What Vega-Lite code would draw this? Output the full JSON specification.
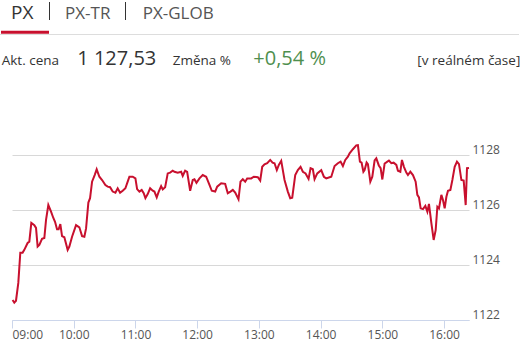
{
  "$schema": "https://vega.github.io/schema/vega-lite/v6.json",
  "width": 457,
  "height": 220,
  "autosize": {"type": "none"},
  "padding": {"left": 12, "top": 100, "right": 55, "bottom": 25},
  "background": "#ffffff",
  "config": {"view": {"stroke": null}, "font": "Open Sans"},
  "layer": [
    {
      "data": {"values": [{}]},
      "mark": {"type": "rule", "stroke": "#dddddd", "strokeWidth": 1},
      "encoding": {"x": {"value": -12}, "x2": {"value": 507}, "y": {"value": -65.5}}
    },
    {
      "data": {"values": [{}]},
      "mark": {"type": "rule", "stroke": "#c8102e", "strokeWidth": 3},
      "encoding": {"x": {"value": -11}, "x2": {"value": 37}, "y": {"value": -67.8}}
    },
    {
      "data": {"values": [{}]},
      "mark": {"type": "rule", "stroke": "#333333", "strokeWidth": 1},
      "encoding": {"x": {"value": 37.5}, "y": {"value": -98}, "y2": {"value": -80}}
    },
    {
      "data": {"values": [{}]},
      "mark": {"type": "rule", "stroke": "#333333", "strokeWidth": 1},
      "encoding": {"x": {"value": 113.5}, "y": {"value": -98}, "y2": {"value": -80}}
    },
    {
      "data": {"values": [{"s": "PX"}]},
      "mark": {"type": "text", "x": -1, "y": -81, "align": "left", "baseline": "alphabetic", "fontSize": 19, "color": "#333333", "font": "Open Sans"},
      "encoding": {"text": {"field": "s"}}
    },
    {
      "data": {"values": [{"s": "PX-TR"}]},
      "mark": {"type": "text", "x": 53, "y": -80.7, "align": "left", "baseline": "alphabetic", "fontSize": 17, "color": "#555555", "font": "Open Sans"},
      "encoding": {"text": {"field": "s"}}
    },
    {
      "data": {"values": [{"s": "PX-GLOB"}]},
      "mark": {"type": "text", "x": 130.7, "y": -80.7, "align": "left", "baseline": "alphabetic", "fontSize": 17, "color": "#555555", "font": "Open Sans"},
      "encoding": {"text": {"field": "s"}}
    },
    {
      "data": {"values": [{"s": "Akt. cena"}]},
      "mark": {"type": "text", "x": -10.3, "y": -35, "align": "left", "baseline": "alphabetic", "fontSize": 13.5, "color": "#333333", "font": "Open Sans"},
      "encoding": {"text": {"field": "s"}}
    },
    {
      "data": {"values": [{"s": "1 127,53"}]},
      "mark": {"type": "text", "x": 65.3, "y": -35, "align": "left", "baseline": "alphabetic", "fontSize": 20, "color": "#333333", "font": "Open Sans"},
      "encoding": {"text": {"field": "s"}}
    },
    {
      "data": {"values": [{"s": "Změna %"}]},
      "mark": {"type": "text", "x": 160.7, "y": -35, "align": "left", "baseline": "alphabetic", "fontSize": 13.5, "color": "#333333", "font": "Open Sans"},
      "encoding": {"text": {"field": "s"}}
    },
    {
      "data": {"values": [{"s": "+0,54 %"}]},
      "mark": {"type": "text", "x": 241.3, "y": -35, "align": "left", "baseline": "alphabetic", "fontSize": 20, "color": "#4f8f4f", "font": "Open Sans"},
      "encoding": {"text": {"field": "s"}}
    },
    {
      "data": {"values": [{"s": "[v reálném čase]"}]},
      "mark": {"type": "text", "x": 508.3, "y": -35, "align": "right", "baseline": "alphabetic", "fontSize": 13.5, "color": "#333333", "font": "Open Sans"},
      "encoding": {"text": {"field": "s"}}
    },
    {
      "data": {"values": [
        {"t": "2024-05-06T09:00:35", "v": 1122.73},
        {"t": "2024-05-06T09:02:14", "v": 1122.63},
        {"t": "2024-05-06T09:03:53", "v": 1122.70},
        {"t": "2024-05-06T09:06:08", "v": 1123.35},
        {"t": "2024-05-06T09:08:05", "v": 1124.45},
        {"t": "2024-05-06T09:10:19", "v": 1124.45},
        {"t": "2024-05-06T09:11:58", "v": 1124.55},
        {"t": "2024-05-06T09:15:11", "v": 1124.80},
        {"t": "2024-05-06T09:16:50", "v": 1124.85},
        {"t": "2024-05-06T09:18:47", "v": 1125.53},
        {"t": "2024-05-06T09:21:42", "v": 1125.45},
        {"t": "2024-05-06T09:23:21", "v": 1125.35},
        {"t": "2024-05-06T09:24:55", "v": 1124.67},
        {"t": "2024-05-06T09:26:34", "v": 1124.73},
        {"t": "2024-05-06T09:29:11", "v": 1124.95},
        {"t": "2024-05-06T09:31:26", "v": 1124.98},
        {"t": "2024-05-06T09:33:05", "v": 1125.64},
        {"t": "2024-05-06T09:35:19", "v": 1126.18},
        {"t": "2024-05-06T09:37:57", "v": 1125.94},
        {"t": "2024-05-06T09:40:11", "v": 1125.71},
        {"t": "2024-05-06T09:41:50", "v": 1125.57},
        {"t": "2024-05-06T09:43:47", "v": 1125.30},
        {"t": "2024-05-06T09:45:20", "v": 1125.30},
        {"t": "2024-05-06T09:46:59", "v": 1125.49},
        {"t": "2024-05-06T09:48:39", "v": 1125.05},
        {"t": "2024-05-06T09:50:53", "v": 1125.01},
        {"t": "2024-05-06T09:54:06", "v": 1124.55},
        {"t": "2024-05-06T09:55:45", "v": 1124.67},
        {"t": "2024-05-06T09:58:23", "v": 1125.03},
        {"t": "2024-05-06T10:02:16", "v": 1125.45},
        {"t": "2024-05-06T10:05:29", "v": 1125.37},
        {"t": "2024-05-06T10:08:07", "v": 1125.05},
        {"t": "2024-05-06T10:10:20", "v": 1125.03},
        {"t": "2024-05-06T10:12:00", "v": 1125.33},
        {"t": "2024-05-06T10:14:14", "v": 1126.27},
        {"t": "2024-05-06T10:15:53", "v": 1126.43},
        {"t": "2024-05-06T10:17:50", "v": 1127.03},
        {"t": "2024-05-06T10:20:22", "v": 1127.27},
        {"t": "2024-05-06T10:22:19", "v": 1127.48},
        {"t": "2024-05-06T10:24:56", "v": 1127.21},
        {"t": "2024-05-06T10:27:34", "v": 1127.09},
        {"t": "2024-05-06T10:30:47", "v": 1126.91},
        {"t": "2024-05-06T10:33:01", "v": 1126.85},
        {"t": "2024-05-06T10:35:21", "v": 1126.83},
        {"t": "2024-05-06T10:37:53", "v": 1126.67},
        {"t": "2024-05-06T10:40:31", "v": 1126.63},
        {"t": "2024-05-06T10:42:44", "v": 1126.79},
        {"t": "2024-05-06T10:45:05", "v": 1126.63},
        {"t": "2024-05-06T10:47:37", "v": 1126.70},
        {"t": "2024-05-06T10:50:14", "v": 1126.79},
        {"t": "2024-05-06T10:52:28", "v": 1127.03},
        {"t": "2024-05-06T10:54:08", "v": 1127.21},
        {"t": "2024-05-06T10:57:20", "v": 1127.21},
        {"t": "2024-05-06T10:59:58", "v": 1127.15},
        {"t": "2024-05-06T11:01:37", "v": 1126.76},
        {"t": "2024-05-06T11:03:52", "v": 1126.67},
        {"t": "2024-05-06T11:06:05", "v": 1126.73},
        {"t": "2024-05-06T11:08:02", "v": 1126.61},
        {"t": "2024-05-06T11:09:41", "v": 1126.43},
        {"t": "2024-05-06T11:11:56", "v": 1126.58},
        {"t": "2024-05-06T11:14:16", "v": 1126.79},
        {"t": "2024-05-06T11:16:48", "v": 1126.70},
        {"t": "2024-05-06T11:18:27", "v": 1126.67},
        {"t": "2024-05-06T11:20:41", "v": 1126.46},
        {"t": "2024-05-06T11:22:38", "v": 1126.67},
        {"t": "2024-05-06T11:24:58", "v": 1126.87},
        {"t": "2024-05-06T11:26:32", "v": 1126.75},
        {"t": "2024-05-06T11:28:52", "v": 1126.83},
        {"t": "2024-05-06T11:31:23", "v": 1127.33},
        {"t": "2024-05-06T11:33:43", "v": 1127.36},
        {"t": "2024-05-06T11:36:15", "v": 1127.43},
        {"t": "2024-05-06T11:37:55", "v": 1127.39},
        {"t": "2024-05-06T11:41:07", "v": 1127.36},
        {"t": "2024-05-06T11:44:26", "v": 1127.39},
        {"t": "2024-05-06T11:45:59", "v": 1127.24},
        {"t": "2024-05-06T11:48:19", "v": 1127.43},
        {"t": "2024-05-06T11:50:16", "v": 1127.39},
        {"t": "2024-05-06T11:53:11", "v": 1126.70},
        {"t": "2024-05-06T11:55:43", "v": 1127.09},
        {"t": "2024-05-06T11:57:22", "v": 1127.12},
        {"t": "2024-05-06T11:59:19", "v": 1126.99},
        {"t": "2024-05-06T12:02:14", "v": 1127.15},
        {"t": "2024-05-06T12:05:26", "v": 1127.27},
        {"t": "2024-05-06T12:08:45", "v": 1127.21},
        {"t": "2024-05-06T12:11:58", "v": 1126.91},
        {"t": "2024-05-06T12:14:12", "v": 1126.70},
        {"t": "2024-05-06T12:17:31", "v": 1126.67},
        {"t": "2024-05-06T12:19:27", "v": 1126.85},
        {"t": "2024-05-06T12:23:20", "v": 1126.97},
        {"t": "2024-05-06T12:27:14", "v": 1126.95},
        {"t": "2024-05-06T12:29:46", "v": 1126.61},
        {"t": "2024-05-06T12:32:23", "v": 1126.67},
        {"t": "2024-05-06T12:34:38", "v": 1126.73},
        {"t": "2024-05-06T12:36:58", "v": 1126.63},
        {"t": "2024-05-06T12:40:11", "v": 1126.39},
        {"t": "2024-05-06T12:42:07", "v": 1127.03},
        {"t": "2024-05-06T12:44:22", "v": 1127.12},
        {"t": "2024-05-06T12:46:42", "v": 1127.03},
        {"t": "2024-05-06T12:48:38", "v": 1127.15},
        {"t": "2024-05-06T12:52:32", "v": 1127.15},
        {"t": "2024-05-06T12:55:04", "v": 1127.21},
        {"t": "2024-05-06T12:58:58", "v": 1127.19},
        {"t": "2024-05-06T13:01:17", "v": 1127.07},
        {"t": "2024-05-06T13:03:14", "v": 1127.57},
        {"t": "2024-05-06T13:05:28", "v": 1127.66},
        {"t": "2024-05-06T13:08:06", "v": 1127.70},
        {"t": "2024-05-06T13:11:01", "v": 1127.82},
        {"t": "2024-05-06T13:13:16", "v": 1127.72},
        {"t": "2024-05-06T13:15:12", "v": 1127.70},
        {"t": "2024-05-06T13:17:26", "v": 1127.45},
        {"t": "2024-05-06T13:19:23", "v": 1127.64},
        {"t": "2024-05-06T13:21:43", "v": 1127.79},
        {"t": "2024-05-06T13:24:56", "v": 1127.09},
        {"t": "2024-05-06T13:28:08", "v": 1126.67},
        {"t": "2024-05-06T13:30:29", "v": 1126.43},
        {"t": "2024-05-06T13:32:25", "v": 1126.45},
        {"t": "2024-05-06T13:35:20", "v": 1127.27},
        {"t": "2024-05-06T13:37:52", "v": 1127.45},
        {"t": "2024-05-06T13:40:30", "v": 1127.57},
        {"t": "2024-05-06T13:42:44", "v": 1127.39},
        {"t": "2024-05-06T13:45:22", "v": 1127.33},
        {"t": "2024-05-06T13:48:17", "v": 1127.13},
        {"t": "2024-05-06T13:50:14", "v": 1127.52},
        {"t": "2024-05-06T13:52:28", "v": 1127.48},
        {"t": "2024-05-06T13:54:07", "v": 1127.12},
        {"t": "2024-05-06T13:56:45", "v": 1127.33},
        {"t": "2024-05-06T14:00:38", "v": 1127.45},
        {"t": "2024-05-06T14:03:10", "v": 1127.21},
        {"t": "2024-05-06T14:05:30", "v": 1127.15},
        {"t": "2024-05-06T14:08:43", "v": 1127.19},
        {"t": "2024-05-06T14:10:22", "v": 1127.21},
        {"t": "2024-05-06T14:13:35", "v": 1127.60},
        {"t": "2024-05-06T14:16:47", "v": 1127.70},
        {"t": "2024-05-06T14:19:25", "v": 1127.76},
        {"t": "2024-05-06T14:21:40", "v": 1127.60},
        {"t": "2024-05-06T14:23:59", "v": 1127.82},
        {"t": "2024-05-06T14:26:31", "v": 1127.94},
        {"t": "2024-05-06T14:28:10", "v": 1128.06},
        {"t": "2024-05-06T14:31:23", "v": 1128.21},
        {"t": "2024-05-06T14:34:41", "v": 1128.35},
        {"t": "2024-05-06T14:36:15", "v": 1128.36},
        {"t": "2024-05-06T14:38:12", "v": 1127.76},
        {"t": "2024-05-06T14:39:51", "v": 1127.72},
        {"t": "2024-05-06T14:41:36", "v": 1127.39},
        {"t": "2024-05-06T14:42:46", "v": 1127.45},
        {"t": "2024-05-06T14:44:43", "v": 1127.73},
        {"t": "2024-05-06T14:45:59", "v": 1127.67},
        {"t": "2024-05-06T14:48:19", "v": 1127.03},
        {"t": "2024-05-06T14:50:16", "v": 1127.21},
        {"t": "2024-05-06T14:52:30", "v": 1127.80},
        {"t": "2024-05-06T14:54:09", "v": 1127.88},
        {"t": "2024-05-06T14:56:35", "v": 1127.62},
        {"t": "2024-05-06T14:58:20", "v": 1127.52},
        {"t": "2024-05-06T15:00:00", "v": 1127.11},
        {"t": "2024-05-06T15:02:14", "v": 1127.69},
        {"t": "2024-05-06T15:03:53", "v": 1127.73},
        {"t": "2024-05-06T15:06:25", "v": 1127.80},
        {"t": "2024-05-06T15:08:45", "v": 1127.70},
        {"t": "2024-05-06T15:10:59", "v": 1127.72},
        {"t": "2024-05-06T15:13:37", "v": 1127.64},
        {"t": "2024-05-06T15:15:10", "v": 1127.43},
        {"t": "2024-05-06T15:17:30", "v": 1127.39},
        {"t": "2024-05-06T15:19:04", "v": 1127.82},
        {"t": "2024-05-06T15:21:00", "v": 1127.57},
        {"t": "2024-05-06T15:23:20", "v": 1127.36},
        {"t": "2024-05-06T15:24:54", "v": 1127.27},
        {"t": "2024-05-06T15:27:14", "v": 1127.39},
        {"t": "2024-05-06T15:29:46", "v": 1127.27},
        {"t": "2024-05-06T15:32:23", "v": 1127.03},
        {"t": "2024-05-06T15:34:02", "v": 1126.55},
        {"t": "2024-05-06T15:35:36", "v": 1126.46},
        {"t": "2024-05-06T15:37:15", "v": 1126.06},
        {"t": "2024-05-06T15:39:29", "v": 1126.03},
        {"t": "2024-05-06T15:41:49", "v": 1126.15},
        {"t": "2024-05-06T15:43:46", "v": 1125.94},
        {"t": "2024-05-06T15:45:20", "v": 1126.22},
        {"t": "2024-05-06T15:47:40", "v": 1125.52},
        {"t": "2024-05-06T15:49:54", "v": 1124.91},
        {"t": "2024-05-06T15:51:51", "v": 1125.27},
        {"t": "2024-05-06T15:53:30", "v": 1126.12},
        {"t": "2024-05-06T15:55:04", "v": 1126.06},
        {"t": "2024-05-06T15:57:23", "v": 1126.55},
        {"t": "2024-05-06T15:58:57", "v": 1126.36},
        {"t": "2024-05-06T16:00:36", "v": 1126.06},
        {"t": "2024-05-06T16:02:16", "v": 1126.48},
        {"t": "2024-05-06T16:03:49", "v": 1126.70},
        {"t": "2024-05-06T16:06:09", "v": 1126.73},
        {"t": "2024-05-06T16:08:05", "v": 1127.09},
        {"t": "2024-05-06T16:10:20", "v": 1127.57},
        {"t": "2024-05-06T16:12:34", "v": 1127.76},
        {"t": "2024-05-06T16:14:31", "v": 1127.67},
        {"t": "2024-05-06T16:16:51", "v": 1127.09},
        {"t": "2024-05-06T16:19:05", "v": 1127.07},
        {"t": "2024-05-06T16:21:02", "v": 1126.18},
        {"t": "2024-05-06T16:22:18", "v": 1127.52},
        {"t": "2024-05-06T16:24:15", "v": 1127.53}
      ]},
      "mark": {"type": "line", "color": "#c8102e", "strokeWidth": 2, "interpolate": "linear"},
      "encoding": {
        "x": {
          "field": "t",
          "type": "temporal",
          "scale": {
            "domain": [
              {"year": 2024, "month": 5, "date": 6, "hours": 9},
              {"year": 2024, "month": 5, "date": 6, "hours": 16, "minutes": 24, "seconds": 15}
            ]
          },
          "axis": {
            "title": null,
            "format": "%H:%M",
            "values": [
              {"year": 2024, "month": 5, "date": 6, "hours": 9},
              {"year": 2024, "month": 5, "date": 6, "hours": 10},
              {"year": 2024, "month": 5, "date": 6, "hours": 11},
              {"year": 2024, "month": 5, "date": 6, "hours": 12},
              {"year": 2024, "month": 5, "date": 6, "hours": 13},
              {"year": 2024, "month": 5, "date": 6, "hours": 14},
              {"year": 2024, "month": 5, "date": 6, "hours": 15},
              {"year": 2024, "month": 5, "date": 6, "hours": 16}
            ],
            "grid": false,
            "domainColor": "#ccd6eb",
            "tickColor": "#ccd6eb",
            "tickSize": 8,
            "labelFlush": true,
            "labelFont": "Open Sans",
            "labelFontSize": 12,
            "labelColor": "#555555",
            "labelPadding": 1
          }
        },
        "y": {
          "field": "v",
          "type": "quantitative",
          "scale": {"domain": [1122, 1130], "nice": false, "zero": false},
          "axis": {
            "title": null,
            "orient": "right",
            "format": "d",
            "values": [1122, 1124, 1126, 1128],
            "grid": true,
            "gridColor": "#d8d8d8",
            "domain": false,
            "ticks": false,
            "labelFont": "Open Sans",
            "labelFontSize": 12,
            "labelColor": "#555555",
            "labelBaseline": "alphabetic",
            "labelOffset": -2,
            "labelPadding": 3
          }
        }
      }
    }
  ]
}
